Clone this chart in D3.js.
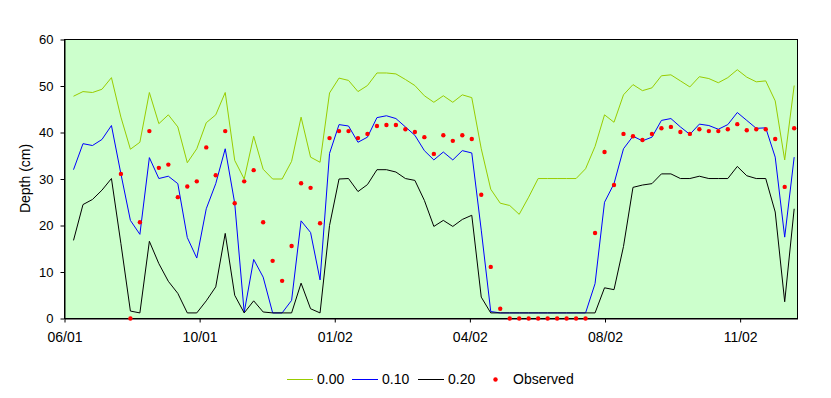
<!DOCTYPE html>
<html>
<head>
<meta charset="utf-8">
<script src="https://cdn.jsdelivr.net/npm/d3@7"></script>
<style>
  body { margin: 0; background: #fff; }
  svg text { font-family: Arial, "Liberation Sans", sans-serif; font-size: 14px; fill: #000; }
  svg .y-axis text { font-size: 13px; }
</style>
</head>
<body>
<div id="chart"></div>
<script>
// sample number (weekly samples), first sample sits just after the 06/01 tick
const weeks = d3.range(77);

// tick positions on the sample axis and their labels
const tickWeeks = [-0.95, 13.3, 27.55, 41.8, 56.05, 70.3];
const tickLabels = ["06/01", "10/01", "01/02", "04/02", "08/02", "11/02"];
const xDomain = [-0.95, 76.35];

// simulated depth for three parameter values (cm)
const depth000 = [
  47.8, 48.8, 48.6, 49.3, 51.8, 43.3, 36.4, 37.9, 48.6, 41.9,
  43.8, 41.2, 33.5, 36.5, 42.1, 43.8, 48.6, 34.0, 30.0, 39.2,
  32.1, 30.0, 30.0, 33.8, 43.3, 34.7, 33.6, 48.5, 51.7, 51.2,
  48.8, 50.1, 52.8, 52.8, 52.6, 51.4, 50.1, 47.9, 46.5, 47.9,
  46.5, 48.1, 47.5, 36.5, 27.8, 24.8, 24.3, 22.4, 26.1, 30.1,
  30.1, 30.1, 30.1, 30.1, 32.2, 37.0, 43.8, 42.2, 48.1, 50.3,
  49.0, 49.6, 52.2, 52.4, 51.1, 49.8, 52.0, 51.6, 50.7, 51.8,
  53.5, 51.9, 50.9, 51.1, 46.8, 34.1, 50.1
];
const depth010 = [
  32.0, 37.6, 37.2, 38.5, 41.5, 31.1, 21.1, 18.1, 34.6, 30.1,
  30.6, 29.0, 17.4, 13.0, 23.6, 29.0, 36.5, 24.8, 1.3, 12.7,
  8.9, 1.2, 1.2, 3.9, 21.0, 18.5, 8.3, 35.5, 41.7, 41.4,
  37.9, 39.0, 43.2, 43.6, 43.0, 41.2, 39.4, 36.1, 34.1, 35.8,
  34.1, 36.1, 35.6, 19.0, 1.5, 1.2, 1.2, 1.2, 1.2, 1.2,
  1.2, 1.2, 1.2, 1.2, 1.2, 7.5, 25.0, 29.0, 36.5, 39.2,
  38.2, 39.0, 42.6, 43.0, 41.2, 39.6, 41.8, 41.5, 40.7, 41.7,
  44.3, 42.6, 40.9, 41.0, 34.7, 17.5, 34.7
];
const depth020 = [
  16.8, 24.5, 25.6, 27.6, 30.1, 16.1, 1.6, 1.2, 16.6, 11.8,
  8.0, 5.4, 1.2, 1.2, 3.8, 6.8, 18.3, 5.0, 1.2, 3.8,
  1.4, 1.2, 1.2, 1.2, 7.6, 2.1, 1.2, 20.0, 30.0, 30.1,
  27.3, 28.8, 32.0, 32.0, 31.5, 30.1, 29.7, 25.4, 19.8, 21.1,
  19.8, 21.3, 22.2, 4.6, 1.2, 1.2, 1.2, 1.2, 1.2, 1.2,
  1.2, 1.2, 1.2, 1.2, 1.2, 1.2, 6.6, 6.2, 15.5, 28.2,
  28.7, 29.0, 31.1, 31.1, 30.1, 30.1, 30.6, 30.1, 30.1, 30.1,
  32.7, 30.7, 30.1, 30.1, 22.9, 3.6, 23.6
];
// observed depth (cm), no observations for the first five samples
const observed = [
  null, null, null, null, null, 31.1, 0, 20.7, 40.3, 32.4,
  33.1, 26.1, 28.4, 29.5, 36.8, 30.8, 40.3, 24.8, 29.5, 31.9,
  20.7, 12.4, 8.1, 15.6, 29.1, 28.1, 20.5, 38.8, 40.3, 40.3,
  38.8, 39.7, 41.4, 41.6, 41.6, 40.7, 40.1, 39.0, 35.4, 39.4,
  38.2, 39.4, 38.6, 26.6, 11.1, 2.1, 0, 0, 0, 0,
  0, 0, 0, 0, 0, 18.4, 35.8, 28.7, 39.7, 39.2,
  38.4, 39.7, 40.9, 41.2, 40.1, 39.7, 40.7, 40.3, 40.3, 40.7,
  41.8, 40.5, 40.7, 40.7, 38.6, 28.3, 40.9
];

const seriesNames = ["0.00", "0.10", "0.20"];
const seriesColors = ["#99cc00", "#0000ff", "#000000"];
const yTicks = [0, 10, 20, 30, 40, 50, 60];

const margin = {top: 39, right: 34, bottom: 80, left: 64};
const W = 831, H = 398;
const width = W - margin.left - margin.right;
const height = H - margin.top - margin.bottom;

const svg = d3.select("#chart")
  .append("svg")
  .attr("width", W)
  .attr("height", H);

const g = svg.append("g")
  .attr("transform", `translate(${margin.left + 0.5},${margin.top + 0.5})`);

const x = d3.scaleLinear().domain(xDomain).range([0, width]);
const y = d3.scaleLinear().domain([0, 60]).range([height, 0]);

// plot area
g.append("rect")
  .attr("width", width)
  .attr("height", height)
  .attr("fill", "#ccffcc")
  .attr("stroke", "#000")
  .attr("stroke-width", 1);

// axes
const xAxis = d3.axisBottom(x)
  .tickValues(tickWeeks)
  .tickFormat((d, i) => tickLabels[i])
  .tickSizeInner(4)
  .tickSizeOuter(0)
  .tickPadding(10);

const yAxis = d3.axisLeft(y)
  .tickValues(yTicks)
  .tickSizeInner(4)
  .tickSizeOuter(0)
  .tickPadding(7);

g.append("g")
  .attr("class", "x-axis")
  .attr("transform", `translate(0,${height})`)
  .call(xAxis)
  .call(ax => ax.selectAll("text").attr("font-size", null).attr("font-family", null));

g.append("g")
  .attr("class", "y-axis")
  .call(yAxis)
  .call(ax => ax.selectAll("text").attr("font-size", null).attr("font-family", null));

g.selectAll(".domain").attr("stroke", "#000");
g.selectAll(".tick line").attr("stroke", "#000");

// y title
svg.append("text")
  .attr("transform", `translate(30,${margin.top + height / 2}) rotate(-90)`)
  .attr("text-anchor", "middle")
  .text("Depth (cm)");

// model lines
const seriesData = [depth000, depth010, depth020];
const line = d3.line()
  .x((d, i) => x(weeks[i]))
  .y(d => y(d));

g.selectAll(".line")
  .data(seriesData)
  .join("path")
  .attr("class", "line")
  .attr("fill", "none")
  .attr("stroke", (d, i) => seriesColors[i])
  .attr("stroke-width", 1)
  .attr("d", line);

// observed points
const obsPoints = weeks
  .map(w => ({week: w, value: observed[w]}))
  .filter(d => d.value != null);

g.selectAll(".obs")
  .data(obsPoints)
  .join("circle")
  .attr("class", "obs")
  .attr("cx", d => x(d.week))
  .attr("cy", d => y(d.value))
  .attr("r", 2.2)
  .attr("fill", "#ff0000");

// legend
const legend = svg.append("g").attr("transform", "translate(0,379)");
const legendX = [287, 352, 418];
seriesNames.forEach((name, i) => {
  legend.append("line")
    .attr("x1", legendX[i]).attr("x2", legendX[i] + 26)
    .attr("y1", 0.5).attr("y2", 0.5)
    .attr("stroke", seriesColors[i]);
  legend.append("text")
    .attr("x", legendX[i] + 30)
    .attr("y", 0)
    .attr("dy", "0.35em")
    .text(name);
});
legend.append("circle")
  .attr("cx", 495.5).attr("cy", 0.5)
  .attr("r", 2.2)
  .attr("fill", "#ff0000");
legend.append("text")
  .attr("x", 513)
  .attr("y", 0)
  .attr("dy", "0.35em")
  .text("Observed");
</script>
</body>
</html>
